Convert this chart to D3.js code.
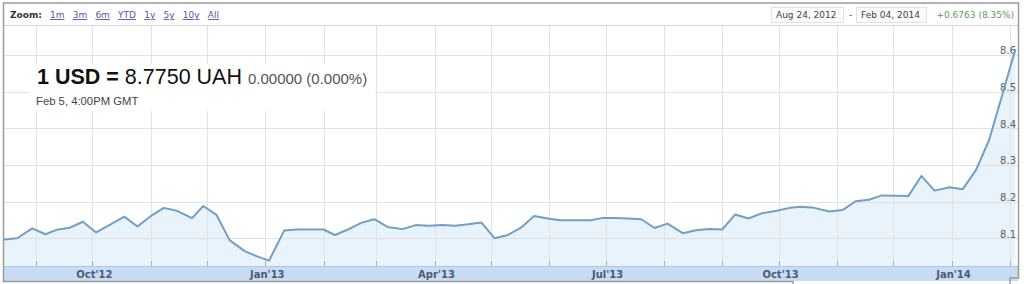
<!DOCTYPE html>
<html>
<head>
<meta charset="utf-8">
<script src="https://cdn.jsdelivr.net/npm/d3@7"></script>
<style>
  html, body { margin: 0; padding: 0; background: #fff; }
  svg { display: block; }
</style>
</head>
<body>
<svg id="chart" width="1024" height="284"></svg>
<script>
// ---- data ----
const dates = [
  "2012-08-15","2012-08-22","2012-08-30","2012-09-06","2012-09-12","2012-09-19","2012-09-26",
  "2012-10-03","2012-10-10","2012-10-18","2012-10-25","2012-11-02","2012-11-08","2012-11-15",
  "2012-11-23","2012-11-29","2012-12-06","2012-12-13","2012-12-21","2012-12-27","2013-01-03",
  "2013-01-11","2013-01-18","2013-01-25","2013-02-01","2013-02-07","2013-02-14","2013-02-21",
  "2013-02-28","2013-03-07","2013-03-15","2013-03-22","2013-03-29","2013-04-05","2013-04-12",
  "2013-04-19","2013-04-26","2013-05-03","2013-05-10","2013-05-17","2013-05-24","2013-06-01",
  "2013-06-07","2013-06-15","2013-06-23","2013-06-29","2013-07-06","2013-07-13","2013-07-20",
  "2013-07-27","2013-08-03","2013-08-11","2013-08-18","2013-08-25","2013-09-01","2013-09-08",
  "2013-09-15","2013-09-22","2013-09-30","2013-10-07","2013-10-13","2013-10-20","2013-10-28",
  "2013-11-04","2013-11-11","2013-11-18","2013-11-25","2013-12-02","2013-12-09","2013-12-16",
  "2013-12-23","2013-12-31","2014-01-07","2014-01-14","2014-01-21","2014-01-28","2014-02-04"
];
const rates = [
  8.097, 8.100, 8.127, 8.111, 8.123, 8.129, 8.145,
  8.116, 8.136, 8.159, 8.132, 8.164, 8.183, 8.175,
  8.155, 8.188, 8.164, 8.095, 8.065, 8.052, 8.039,
  8.121, 8.124, 8.124, 8.124, 8.109, 8.124, 8.142,
  8.152, 8.131, 8.125, 8.136, 8.134, 8.136, 8.134,
  8.138, 8.143, 8.100, 8.109, 8.129, 8.161, 8.153,
  8.149, 8.149, 8.149, 8.155, 8.155, 8.154, 8.152,
  8.128, 8.140, 8.114, 8.122, 8.125, 8.124, 8.165,
  8.154, 8.168, 8.175, 8.183, 8.186, 8.183, 8.173,
  8.177, 8.201, 8.205, 8.217, 8.216, 8.215, 8.270,
  8.230, 8.239, 8.234, 8.286, 8.368, 8.491, 8.616
];
const yTickValues = [8.1, 8.2, 8.3, 8.4, 8.5, 8.6];
const zoomLinks = ["1m", "3m", "6m", "YTD", "1y", "5y", "10y", "All"];
const rangeStart = "Aug 24, 2012";
const rangeEnd = "Feb 04, 2014";
const rangeChange = "+0.6763 (8.35%)";
const quoteMain = "1 USD = ";
const quoteValue = "8.7750 UAH";
const quoteChange = "0.00000 (0.000%)";
const quoteTime = "Feb 5, 4:00PM GMT";

// ---- setup ----
const parse = d3.timeParse("%Y-%m-%d");
const data = dates.map((d, i) => ({ date: parse(d), value: rates[i] }));

const svg = d3.select("#chart");
const pLeft = 4, pRight = 1017.3, pTop = 26, pBottom = 266;

const x = d3.scaleTime()
  .domain([parse("2012-08-15"), parse("2014-02-05")])
  .range([pLeft, pRight]);
const y = d3.scaleLinear()
  .domain([8.0244, 8.679])
  .range([pBottom, pTop]);

// header background & separator
svg.append("rect").attr("x", 3).attr("y", 3).attr("width", 1015).attr("height", 22).attr("fill", "#fff");
svg.append("line").attr("x1", 3).attr("x2", 1018).attr("y1", 25.5).attr("y2", 25.5)
  .attr("stroke", "#d4d4d4").attr("stroke-width", 1);

// area fill
const area = d3.area()
  .x(d => x(d.date))
  .y0(pBottom)
  .y1(d => y(d.value));
svg.append("path").datum(data).attr("d", area).attr("fill", "#e8f3fc");

// gridlines
const months = d3.timeMonth.range(d3.timeMonth.ceil(x.domain()[0]), x.domain()[1]);
svg.append("g").selectAll("line").data(months).join("line")
  .attr("x1", d => Math.round(x(d)) + 0.5).attr("x2", d => Math.round(x(d)) + 0.5)
  .attr("y1", pTop).attr("y2", pBottom)
  .attr("stroke", "#e2e2e2").attr("stroke-width", 1);
svg.append("g").selectAll("line").data(yTickValues).join("line")
  .attr("x1", pLeft).attr("x2", 1018)
  .attr("y1", d => Math.round(y(d)) + 0.5).attr("y2", d => Math.round(y(d)) + 0.5)
  .attr("stroke", "#e2e2e2").attr("stroke-width", 1);

// y labels (right)
svg.append("g").selectAll("text").data(yTickValues).join("text")
  .attr("x", 1016).attr("y", d => y(d) - 0.5)
  .attr("text-anchor", "end")
  .attr("font-family", "DejaVu Sans, Verdana, sans-serif")
  .attr("font-size", 10).attr("fill", "#5e5e5e")
  .text(d => d3.format(".1f")(d));

// line
const line = d3.line().x(d => x(d.date)).y(d => y(d.value));
svg.append("path").datum(data).attr("d", line)
  .attr("fill", "none").attr("stroke", "#729fc3").attr("stroke-width", 2)
  .attr("stroke-linejoin", "round");

// bottom band
svg.append("rect").attr("x", 4).attr("y", pBottom).attr("width", 1014).attr("height", 15)
  .attr("fill", "#c7dcf2");
svg.append("line").attr("x1", 4).attr("x2", 1018).attr("y1", pBottom + 0.5).attr("y2", pBottom + 0.5)
  .attr("stroke", "#adc7e4").attr("stroke-width", 1);

// month tick marks
svg.append("g").selectAll("line").data(months).join("line")
  .attr("x1", d => Math.round(x(d)) + 0.5).attr("x2", d => Math.round(x(d)) + 0.5)
  .attr("y1", pBottom - 5).attr("y2", pBottom)
  .attr("stroke", "#b0b0b0").attr("stroke-width", 1);

// quarter labels
const quarters = months.filter(d => d.getMonth() % 3 === 0);
const fmt = d3.timeFormat("%b'%y");
svg.append("g").selectAll("text").data(quarters).join("text")
  .attr("x", d => x(d) + 2).attr("y", 278)
  .attr("text-anchor", "middle")
  .attr("font-family", "DejaVu Sans, Verdana, sans-serif")
  .attr("font-size", 10).attr("font-weight", "bold").attr("fill", "#4a5a74")
  .text(fmt);

// quote box
svg.append("rect").attr("x", 30).attr("y", 64).attr("width", 345).attr("height", 47).attr("fill", "#fff");
const q = svg.append("text").attr("x", 37).attr("y", 84)
  .attr("font-family", "Liberation Sans, Arial, sans-serif");
q.append("tspan").attr("font-size", 21.5).attr("font-weight", "bold").attr("fill", "#111").text(quoteMain);
q.append("tspan").attr("font-size", 21.5).attr("fill", "#111").text(quoteValue + " ");
q.append("tspan").attr("font-size", 15).attr("fill", "#555").text(quoteChange);
svg.append("text").attr("x", 36).attr("y", 105)
  .attr("font-family", "Liberation Sans, Arial, sans-serif")
  .attr("font-size", 11.3).attr("fill", "#444").text(quoteTime);

// header: zoom links
svg.append("text").attr("x", 10).attr("y", 18)
  .attr("font-family", "DejaVu Sans, Verdana, sans-serif")
  .attr("font-size", 9).attr("font-weight", "bold").attr("fill", "#333").text("Zoom:");
let lx = 50;
zoomLinks.forEach(t => {
  const el = svg.append("text").attr("x", lx).attr("y", 18)
    .attr("font-family", "DejaVu Sans, Verdana, sans-serif")
    .attr("font-size", 9).attr("fill", "#4a5cab")
    .attr("text-decoration", "underline").text(t);
  lx += el.node().getComputedTextLength() + 8.2;
});

// header: range
const hdrFont = "DejaVu Sans, Verdana, sans-serif";
svg.append("rect").attr("x", 771.5).attr("y", 7.5).attr("width", 72).attr("height", 15)
  .attr("fill", "#fbfbfb").attr("stroke", "#e2e2e2");
svg.append("rect").attr("x", 856.5).attr("y", 7.5).attr("width", 70).attr("height", 15)
  .attr("fill", "#fbfbfb").attr("stroke", "#e2e2e2");
svg.append("text").attr("x", 776).attr("y", 18).attr("font-family", hdrFont)
  .attr("font-size", 9).attr("fill", "#444").text(rangeStart);
svg.append("text").attr("x", 849).attr("y", 18).attr("font-family", hdrFont)
  .attr("font-size", 9).attr("fill", "#444").text("-");
svg.append("text").attr("x", 861).attr("y", 18).attr("font-family", hdrFont)
  .attr("font-size", 9).attr("fill", "#444").text(rangeEnd);
svg.append("text").attr("x", 1014).attr("y", 18).attr("text-anchor", "end").attr("font-family", hdrFont)
  .attr("font-size", 9).attr("fill", "#5a9e5a").text(rangeChange);

// outer frame
const frame = svg.append("g").attr("fill", "none").attr("stroke", "#9a9a9a").attr("stroke-width", 1.5);
frame.append("path").attr("d", "M793,284 L793,281.5 L3.5,281.5 L3.5,3 L1018.5,3 L1018.5,278 L1010,278 L1010,284");
</script>
</body>
</html>
